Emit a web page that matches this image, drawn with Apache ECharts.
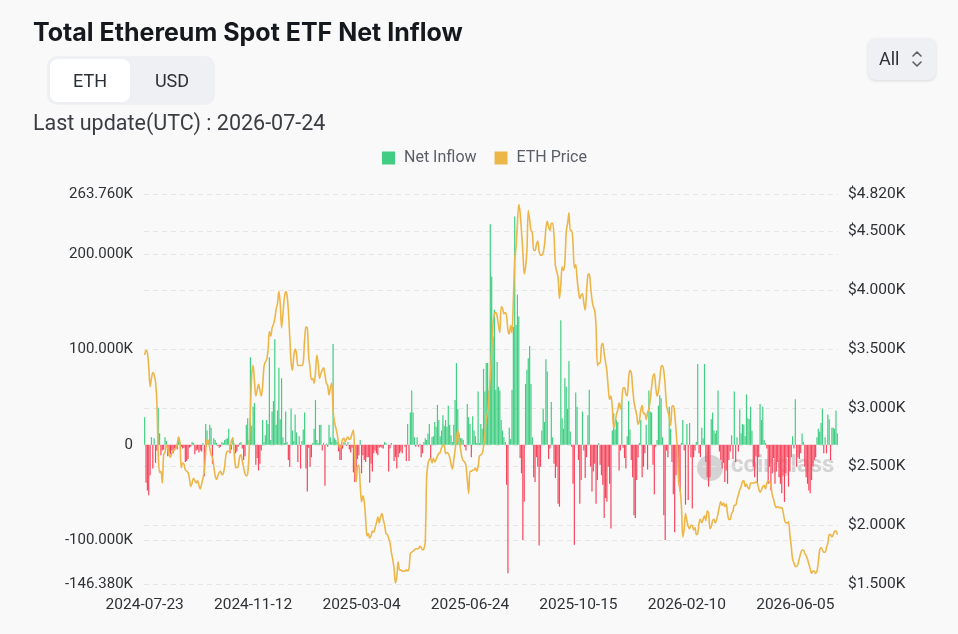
<!DOCTYPE html>
<html>
<head>
<meta charset="utf-8">
<script src="https://cdn.jsdelivr.net/npm/echarts@6/dist/echarts.min.js"></script>
<style>
  html, body { margin: 0; padding: 0; background: #f9f9f9; }
  body { width: 958px; height: 634px; position: relative; overflow: hidden; font-family: Roboto, "Noto Sans", sans-serif; }
  #chart { position: absolute; left: 0; top: 0; width: 958px; height: 634px; }
  .abs { position: absolute; white-space: nowrap; }
  #title { left: 33px; top: 14px; font: 700 25px/36px Inter, Roboto, sans-serif; color: #15181c; }
  #toggle { left: 47px; top: 56px; width: 168px; height: 49px; background: #eef0f3; border-radius: 10px; }
  #eth { left: 3px; top: 3px; width: 80px; height: 43px; background: #ffffff; border-radius: 8px; font: 400 18px/43px Roboto, sans-serif; color: #2b2f36; text-align: center; }
  #usd { left: 86px; top: 3px; width: 78px; height: 43px; font: 400 18px/43px Roboto, sans-serif; color: #2b2f36; text-align: center; }
  #upd { left: 33px; top: 108px; font: 400 21.5px/30px Roboto, sans-serif; color: #3a3d42; }
  #sel { left: 868px; top: 38px; width: 68px; height: 42px; background: #eef0f3; border-radius: 8px; box-shadow: 0 1px 3px rgba(0,0,0,0.13); }
  #selTxt { left: 11px; top: 0; font: 400 18px/42px Roboto, sans-serif; color: #2b2f36; }
  #selIco { left: 42px; top: 12px; }
</style>
</head>
<body>
<div id="chart"></div>
<div id="title" class="abs">Total Ethereum Spot ETF Net Inflow</div>
<div id="toggle" class="abs">
  <div id="eth" class="abs">ETH</div>
  <div id="usd" class="abs">USD</div>
</div>
<div id="upd" class="abs">Last update(UTC) : 2026-07-24</div>
<div id="sel" class="abs">
  <div id="selTxt" class="abs">All</div>
  <svg id="selIco" class="abs" width="14" height="18" viewBox="0 0 14 18">
    <polyline points="3,6 7,2 11,6" fill="none" stroke="#5b6068" stroke-width="1.6" stroke-linecap="round" stroke-linejoin="round"/>
    <polyline points="3,12 7,16 11,12" fill="none" stroke="#5b6068" stroke-width="1.6" stroke-linecap="round" stroke-linejoin="round"/>
  </svg>
</div>
<script>
// ---- data (net inflow in thousand ETH, price in thousand USD) ----
const tickLabels = ['2024-07-23','2024-11-12','2025-03-04','2025-06-24','2025-10-15','2026-02-10','2026-06-05'];
const startDate = '2024-07-23';

const netInflow = [
  29,-40,-48,-53,-32,8,-25,7,-19,-6,
  39,12,-11,-6,-5,8,4,-12,-8,-10,
  -6,-9,-4,-3,-5,6,3,-2,-4,-3,
  -18,-17,-15,-3,-2,3,2,-10,-6,-5,
  -8,-6,-7,2,-33,22,15,3,21,18,
  -20,7,5,2,-1,-3,-2,3,2,5,
  6,7,17,-9,-5,8,1,-9,-7,-2,
  2,3,-4,-16,-12,
  21,28,5,92,20,40,44,-21,-14,-27,
  -20,-6,26,3,10,26,22,92,5,35,
  46,111,21,36,81,27,70,8,2,35,
  3,-16,-23,38,15,4,32,13,-18,9,
  -25,4,16,34,-25,-49,-3,-23,-13,2,
  17,47,5,2,21,21,-6,2,-43,1,
  -2,21,8,3,106,7,5,3,-7,-16,
  -16,-4,3,
  2,-1,3,-5,-8,-3,-29,-39,-34,-15,
  -11,5,-30,-11,-16,-18,-13,-13,-40,-20,
  -28,-9,-6,-9,-11,-3,-2,-3,-4,3,
  2,0,-28,-4,2,0,-17,-13,-25,-13,
  -9,-7,-9,0,-2,-17,22,-17,34,57,
  34,8,-2,8,-2,1,-13,-9,3,7,
  5,12,22,-16,8,9,24,19,42,26,
  9,15,31,20,
  26,19,41,21,10,3,21,47,86,38,
  12,7,7,5,-2,-6,43,29,22,-13,
  30,15,9,2,56,2,22,17,80,56,
  86,86,57,232,177,114,142,58,87,61,
  57,26,15,8,3,-42,-135,18,6,58,
  124,240,126,158,135,-14,-30,-100,-60,64,
  79,91,104,64,8,-34,-39,-13,-23,-106,
  -23,15,38,
  24,90,77,-15,-4,45,8,-20,-35,-23,
  -62,-65,131,28,17,70,61,38,88,14,
  -2,-41,-105,55,40,-16,-62,-37,35,-6,
  -35,-13,31,58,-23,-49,-28,-20,-62,-37,
  2,-21,-32,-42,-77,-56,-60,-23,-41,-88,
  15,33,16,26,24,-27,-6,47,-3,-14,
  -25,9,46,16,-16,-34,-74,-77,-37,-13,
  2,26,-34,-23,
  -9,21,-26,57,35,34,-21,-52,-2,5,
  41,52,49,8,-74,-100,-6,-13,40,17,
  -18,-52,-92,-32,-13,-39,-49,2,26,-6,
  -63,22,-58,23,-13,-67,-13,-6,3,85,
  -9,-13,18,7,85,-18,-34,-44,-34,27,
  34,15,12,15,57,-7,-16,-25,-19,-39,
  -27,-41,-16,-7,10,-15,56,-18,8,-7,
  37,12,22,21,
  9,53,28,27,40,15,-23,-34,-12,-41,
  -13,43,26,40,5,2,-4,-41,-23,-48,
  -30,-14,-41,-28,-18,-34,-41,-51,-32,-60,
  -30,-13,-44,-28,-13,9,-4,48,-23,-13,
  -15,-9,12,3,-23,-34,-41,-48,-51,-37,
  -23,-16,-13,8,17,14,23,38,-9,8,
  -9,32,27,-16,18,18,17,36,12
];

const ethPrice = [
  3.45,3.49,3.47,3.35,3.18,3.25,3.30,3.28,3.22,3.05,
  2.62,2.45,2.46,2.36,2.60,2.62,2.68,2.66,2.60,2.58,
  2.61,2.63,2.64,2.66,2.69,2.75,2.70,2.49,2.53,2.52,
  2.47,2.46,2.45,2.40,2.33,2.36,2.40,2.38,2.36,2.38,
  2.34,2.31,2.35,2.40,2.46,2.62,2.73,2.72,2.66,2.60,
  2.58,2.50,2.42,2.39,2.42,2.45,2.46,2.43,2.44,2.50,
  2.60,2.63,2.63,2.64,2.72,2.74,2.62,2.50,2.49,2.50,
  2.58,2.60,2.55,2.49,2.44,
  2.42,2.44,2.61,2.98,3.29,3.36,3.22,3.10,3.15,3.20,
  3.15,3.10,3.18,3.35,3.39,3.41,3.49,3.65,3.61,3.68,
  3.71,3.76,3.84,3.89,3.99,3.89,3.68,3.80,3.93,3.99,
  3.96,3.83,3.61,3.39,3.32,3.44,3.50,3.46,3.36,3.36,
  3.36,3.36,3.39,3.58,3.69,3.68,3.44,3.34,3.24,3.25,
  3.21,3.30,3.45,3.38,3.25,3.29,3.32,3.34,3.28,3.21,
  3.19,3.11,3.17,3.21,2.98,2.88,2.83,2.78,2.70,2.66,
  2.68,2.73,2.74,
  2.71,2.74,2.75,2.73,2.74,2.78,2.81,2.58,2.37,2.50,
  2.51,2.34,2.20,2.25,2.20,2.06,1.91,1.93,1.89,1.91,
  1.95,1.94,1.98,2.02,2.07,2.02,2.07,2.10,2.05,2.00,
  1.93,1.92,1.89,1.85,1.77,1.71,1.63,1.51,1.56,1.69,
  1.62,1.62,1.61,1.61,1.61,1.62,1.61,1.63,1.76,1.77,
  1.78,1.79,1.80,1.80,1.80,1.82,1.81,1.79,1.80,1.86,
  2.41,2.52,2.56,2.57,2.53,2.57,2.54,2.56,2.59,2.61,
  2.62,2.66,2.68,2.68,
  2.61,2.62,2.61,2.58,2.52,2.48,2.55,2.64,2.73,2.81,
  2.74,2.65,2.58,2.55,2.54,2.51,2.39,2.27,2.46,2.46,
  2.47,2.47,2.49,2.46,2.50,2.59,2.60,2.61,2.67,2.78,
  2.91,2.96,3.10,3.28,3.49,3.72,3.80,3.81,3.78,3.70,
  3.64,3.86,3.85,3.80,3.81,3.78,3.66,3.63,3.70,3.64,
  3.92,4.26,4.37,4.57,4.73,4.66,4.50,4.33,4.14,4.20,
  4.34,4.68,4.60,4.51,4.49,4.34,4.34,4.39,4.42,4.33,
  4.30,4.30,4.32,
  4.39,4.52,4.59,4.54,4.51,4.57,4.57,4.46,4.21,4.16,
  4.11,3.93,4.05,4.20,4.17,4.24,4.50,4.57,4.66,4.51,
  4.51,4.40,4.19,4.22,4.10,4.00,3.93,3.96,3.97,3.89,
  3.83,3.99,4.13,4.14,4.03,3.92,3.86,3.83,3.69,3.36,
  3.38,3.38,3.53,3.55,3.46,3.39,3.31,3.17,3.07,3.10,
  3.00,2.83,2.87,2.94,2.98,3.04,2.99,3.06,3.17,3.17,
  3.12,3.10,3.25,3.32,3.30,3.17,3.05,2.99,2.94,2.86,
  2.89,2.98,3.02,2.95,
  2.95,2.90,2.96,2.99,3.07,3.18,3.27,3.29,3.18,3.10,
  3.14,3.24,3.35,3.36,3.31,3.19,3.02,2.97,2.92,2.85,
  3.01,3.02,2.95,2.81,2.64,2.36,2.30,2.16,1.90,1.97,
  2.10,2.04,1.99,1.97,2.00,2.00,1.96,1.98,1.92,1.93,
  2.02,2.05,2.02,2.05,2.08,2.04,2.12,2.11,1.97,1.99,
  2.04,2.05,2.02,2.05,2.10,2.16,2.20,2.17,2.19,2.16,
  2.18,2.10,2.05,2.05,2.10,2.12,2.17,2.17,2.22,2.26,
  2.30,2.33,2.37,2.38,
  2.33,2.35,2.32,2.31,2.36,2.36,2.36,2.36,2.37,2.36,
  2.31,2.28,2.30,2.33,2.34,2.31,2.36,2.38,2.37,2.34,
  2.26,2.22,2.17,2.15,2.16,2.15,2.15,2.15,2.11,2.05,
  2.02,2.02,2.03,1.92,1.82,1.71,1.68,1.65,1.65,1.67,
  1.72,1.76,1.79,1.79,1.76,1.74,1.71,1.67,1.63,1.59,
  1.61,1.61,1.59,1.61,1.69,1.79,1.81,1.79,1.77,1.77,
  1.81,1.85,1.92,1.92,1.90,1.92,1.95,1.95,1.92
];

const inflowAxisMin = -146.38, inflowAxisMax = 263.76;
const priceAxisMin = 1.5, priceAxisMax = 4.82;

// ---- categories: one per trading day ----
const categories = [];
(function () {
  const d = new Date(startDate + 'T00:00:00Z');
  while (categories.length < netInflow.length) {
    const wd = d.getUTCDay();
    if (wd !== 0 && wd !== 6) categories.push(d.toISOString().slice(0, 10));
    d.setUTCDate(d.getUTCDate() + 1);
  }
})();
const LABEL_STEP = 80;
const labelAt = {};
tickLabels.forEach((t, k) => { if (categories[k * LABEL_STEP]) labelAt[categories[k * LABEL_STEP]] = t; });

const GREEN = '#41ce83', RED = '#f6465d', GOLD = '#edb648';

const chart = echarts.init(document.getElementById('chart'), null, { renderer: 'canvas' });
chart.setOption({
  animation: false,
  backgroundColor: 'transparent',
  textStyle: { fontFamily: 'Roboto, "Noto Sans", sans-serif' },
  legend: {
    top: 145, left: 377,
    icon: 'rect', itemWidth: 13, itemHeight: 13, itemGap: 18,
    textStyle: { fontSize: 16, color: '#5a5e66', padding: [0, 0, 0, 4] },
    data: ['Net Inflow', 'ETH Price']
  },
  grid: { left: 144, right: 120, top: 194, bottom: 50 },
  xAxis: {
    type: 'category',
    data: categories,
    boundaryGap: true,
    axisLine: { show: false },
    axisTick: { show: false },
    splitLine: { show: false },
    axisLabel: {
      interval: LABEL_STEP - 1,
      color: '#2e3136', fontSize: 15.5, margin: 13,
      formatter: v => labelAt[v] || v
    }
  },
  yAxis: [
    {
      type: 'value', position: 'left',
      min: inflowAxisMin, max: inflowAxisMax,
      axisLine: { show: false }, axisTick: { show: false },
      splitLine: { show: true, lineStyle: { type: [5, 4], color: '#e6e6e6', width: 1 } },
      axisLabel: {
        color: '#2e3136', fontSize: 15, margin: 11,
        formatter: v => (Math.abs(v) < 1e-9 ? '0' : v.toFixed(3) + 'K')
      }
    },
    {
      type: 'value', position: 'right',
      min: priceAxisMin, max: priceAxisMax,
      axisLine: { show: false }, axisTick: { show: false },
      splitLine: { show: true, lineStyle: { type: [5, 4], color: '#e6e6e6', width: 1 } },
      axisLabel: {
        color: '#2e3136', fontSize: 15.5, margin: 10,
        formatter: v => '$' + v.toFixed(3) + 'K'
      }
    }
  ],
  graphic: [
    {
      type: 'text', left: 731, top: 454, silent: true, z: 0,
      style: { text: 'coinglass', font: '700 24px Roboto, sans-serif', fill: 'rgba(160,160,160,0.42)' }
    },
    {
      type: 'circle', shape: { cx: 710, cy: 468, r: 13 }, silent: true, z: 0,
      style: { fill: 'rgba(160,160,160,0.42)' }
    }
  ],
  series: [
    {
      name: 'Net Inflow', type: 'bar', yAxisIndex: 0,
      barCategoryGap: '12%',
      itemStyle: { color: GREEN },
      data: netInflow.map(v => ({ value: v, itemStyle: { color: v >= 0 ? GREEN : RED } })),
      z: 2
    },
    {
      name: 'ETH Price', type: 'line', yAxisIndex: 1,
      data: ethPrice,
      showSymbol: false, symbol: 'none', smooth: 0.3,
      itemStyle: { color: GOLD },
      lineStyle: { color: GOLD, width: 1.6 },
      z: 3
    }
  ]
});
</script>
</body>
</html>
